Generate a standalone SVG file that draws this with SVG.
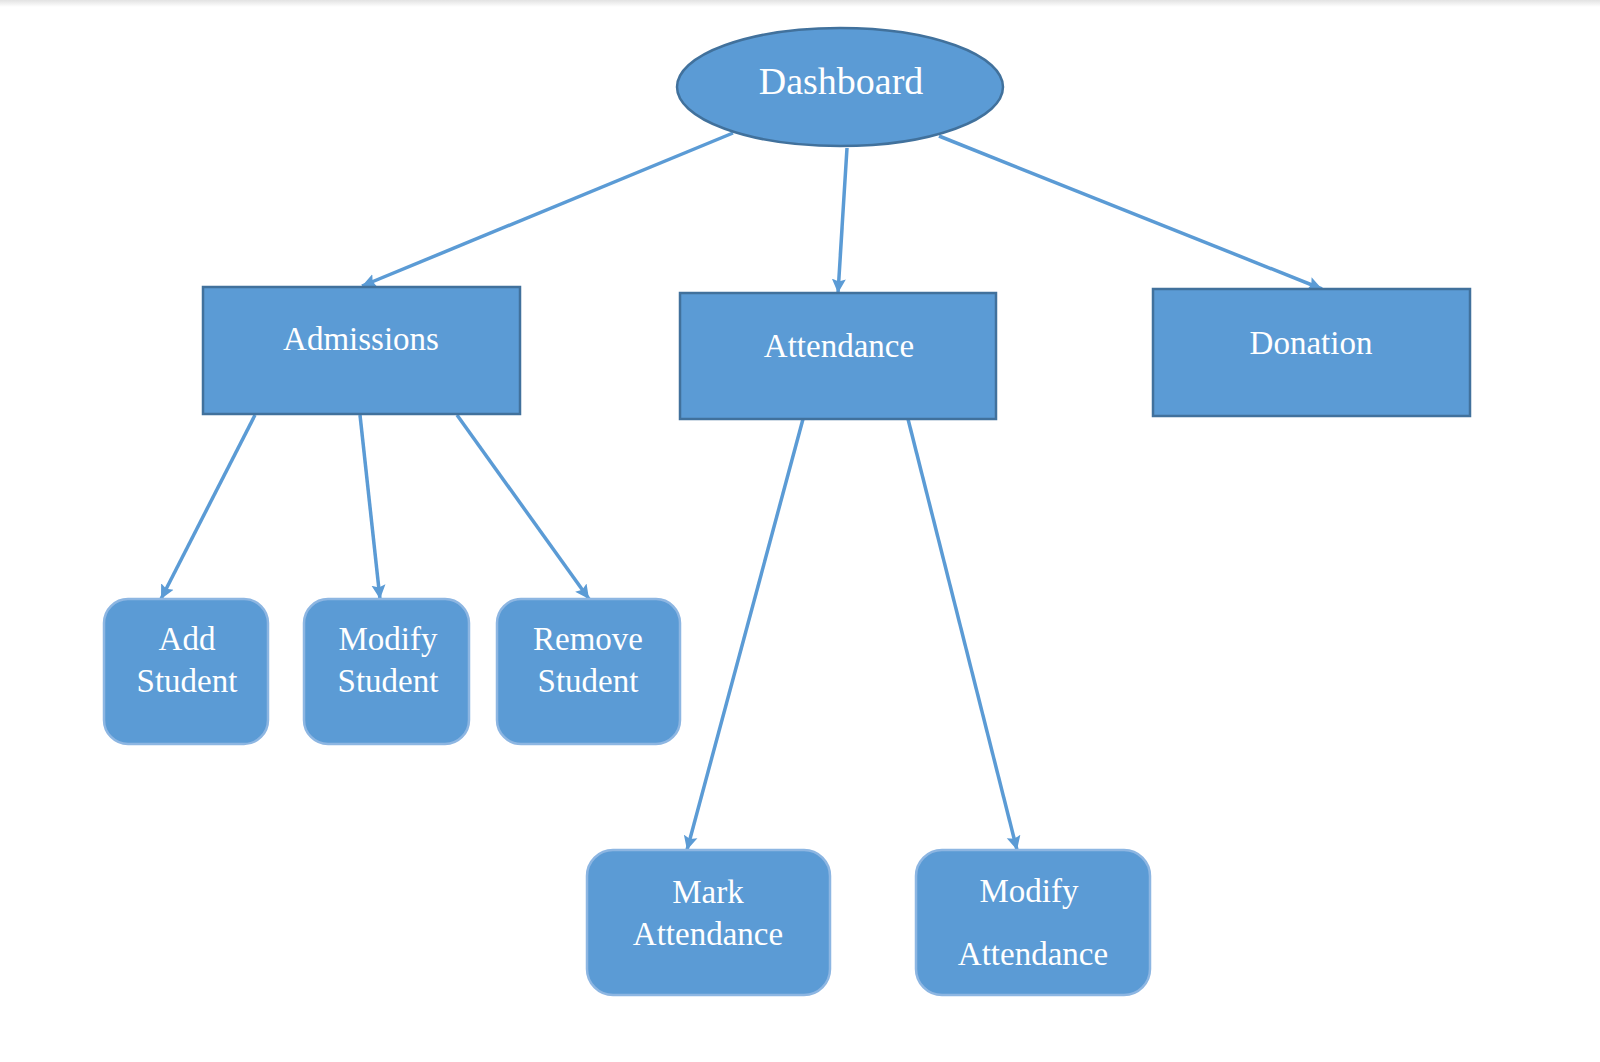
<svg xmlns="http://www.w3.org/2000/svg" width="1600" height="1062" viewBox="0 0 1600 1062">
<defs>
<linearGradient id="topShade" x1="0" y1="0" x2="0" y2="1">
<stop offset="0" stop-color="#e2e2e2"/>
<stop offset="1" stop-color="#ffffff"/>
</linearGradient>
<marker id="arrow" markerUnits="userSpaceOnUse" markerWidth="16" markerHeight="16" refX="14" refY="8" orient="auto">
<path d="M0,1 L14,8 L0,15 L2.5,8 z" fill="#5b9bd5"/>
</marker>
</defs>
<style>
.node-rect{fill:#5b9bd5;stroke:#41719c;stroke-width:2.5}
.node-round{fill:#5b9bd5;stroke:#8db6e2;stroke-width:2.5}
.label{font-family:"Liberation Serif","Times New Roman",serif;font-size:33px;fill:#ffffff;text-anchor:middle}
.title{font-size:38px}
.conn{stroke:#5b9bd5;stroke-width:3.5;fill:none;marker-end:url(#arrow)}
</style>
<rect x="0" y="0" width="1600" height="1062" fill="#ffffff"/>
<rect x="0" y="0" width="1600" height="7" fill="url(#topShade)"/>

<g id="connectors">
<line class="conn" x1="733" y1="133" x2="362" y2="286"/>
<line class="conn" x1="847" y1="148" x2="838" y2="293"/>
<line class="conn" x1="939" y1="136" x2="1322" y2="289"/>
<line class="conn" x1="255" y1="415" x2="161" y2="599"/>
<line class="conn" x1="360" y1="415" x2="380" y2="599"/>
<line class="conn" x1="457" y1="415" x2="589" y2="599"/>
<line class="conn" x1="803" y1="419" x2="687" y2="850"/>
<line class="conn" x1="908" y1="419" x2="1017" y2="850"/>
</g>

<g id="dashboard">
<ellipse cx="840" cy="87" rx="163" ry="59" fill="#5b9bd5" stroke="#41719c" stroke-width="2.5"/>
<text class="label title" x="841" y="94">Dashboard</text>
</g>

<g id="admissions">
<rect class="node-rect" x="203" y="287" width="317" height="127"/>
<text class="label" x="361" y="350">Admissions</text>
</g>

<g id="attendance">
<rect class="node-rect" x="680" y="293" width="316" height="126"/>
<text class="label" x="839" y="357">Attendance</text>
</g>

<g id="donation">
<rect class="node-rect" x="1153" y="289" width="317" height="127"/>
<text class="label" x="1311" y="354">Donation</text>
</g>

<g id="add-student">
<rect class="node-round" x="104" y="599" width="164" height="145" rx="24" ry="24"/>
<text class="label" x="187" y="650">Add</text>
<text class="label" x="187" y="692">Student</text>
</g>

<g id="modify-student">
<rect class="node-round" x="304" y="599" width="165" height="145" rx="24" ry="24"/>
<text class="label" x="388" y="650">Modify</text>
<text class="label" x="388" y="692">Student</text>
</g>

<g id="remove-student">
<rect class="node-round" x="497" y="599" width="183" height="145" rx="24" ry="24"/>
<text class="label" x="588" y="650">Remove</text>
<text class="label" x="588" y="692">Student</text>
</g>

<g id="mark-attendance">
<rect class="node-round" x="587" y="850" width="243" height="145" rx="26" ry="26"/>
<text class="label" x="708" y="903">Mark</text>
<text class="label" x="708" y="945">Attendance</text>
</g>

<g id="modify-attendance">
<rect class="node-round" x="916" y="850" width="234" height="145" rx="26" ry="26"/>
<text class="label" x="1029" y="902">Modify</text>
<text class="label" x="1033" y="965">Attendance</text>
</g>
</svg>
